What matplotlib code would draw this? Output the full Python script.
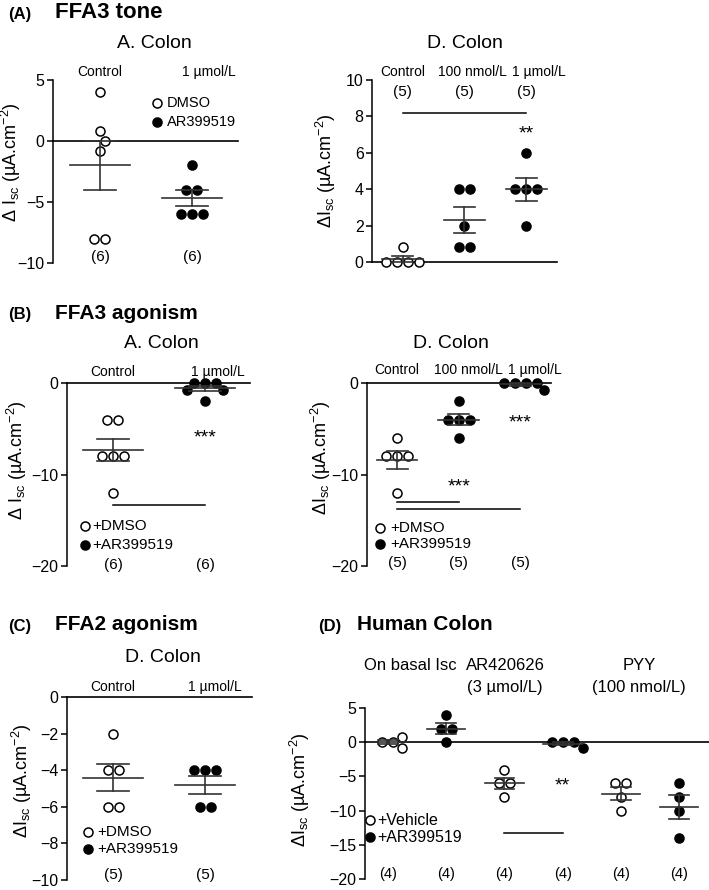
import numpy as np
import matplotlib
matplotlib.use("Agg")
import matplotlib.pyplot as plt

plt.rcParams['font.family'] = ['Liberation Sans', 'DejaVu Sans']
plt.rcParams['mathtext.default'] = 'regular'

W, H = 709, 890

# (A) FFA3 tone, A. Colon
tone_ac_labels = ["Control", "1 µmol/L"]
tone_ac = [[4, 0.8, 0, -0.8, -8, -8],
           [-2, -4, -4, -6, -6, -6]]
tone_ac_fill = [False, True]

# (A) FFA3 tone, D. Colon
tone_dc_labels = ["Control", "100 nmol/L", "1 µmol/L"]
tone_dc = [[0.8, 0, 0, 0, 0],
           [4, 4, 2, 0.8, 0.8],
           [6, 4, 4, 4, 2]]
tone_dc_fill = [False, True, True]

# (B) FFA3 agonism, A. Colon
ago3_ac_labels = ["Control", "1 µmol/L"]
ago3_ac = [[-4, -4, -8, -8, -8, -12],
           [0, 0, 0, -0.8, -0.8, -2]]
ago3_ac_fill = [False, True]

# (B) FFA3 agonism, D. Colon
ago3_dc_labels = ["Control", "100 nmol/L", "1 µmol/L"]
ago3_dc = [[-6, -8, -8, -8, -12],
           [-2, -4, -4, -4, -6],
           [0, 0, 0, 0, -0.8]]
ago3_dc_fill = [False, True, True]

# (C) FFA2 agonism, D. Colon
ago2_dc_labels = ["Control", "1 µmol/L"]
ago2_dc = [[-2, -4, -4, -6, -6],
           [-4, -4, -4, -6, -6]]
ago2_dc_fill = [False, True]

# (D) Human colon
human_labels = [("On basal Isc", ""), ("AR420626", "(3 µmol/L)"), ("PYY", "(100 nmol/L)")]
human = [[0, -0.8, 0, 0.8],
         [4, 2, 2, 0],
         [-4, -6, -6, -8],
         [0, -0.8, 0, 0],
         [-6, -6, -8, -10],
         [-6, -8, -10, -14]]
human_fill = [False, True, False, True, False, True]

YLAB = 'ΔI$_{sc}$ (µA.cm$^{-2}$)'
YLAB_SP = 'Δ I$_{sc}$ (µA.cm$^{-2}$)'

fig = plt.figure(figsize=(W / 100, H / 100), dpi=100)


def px_ax(l, t, r, b):
    return fig.add_axes([l / W, 1 - b / H, (r - l) / W, (b - t) / H])


def ftext(x, y, s, **kw):
    fig.text(x / W, 1 - y / H, s, **kw)


def style(ax, xlim, ylim, yticks):
    ax.set_xlim(xlim)
    ax.set_ylim(ylim)
    ax.set_yticks(yticks)
    ax.set_xticks([])
    for s in ['top', 'right', 'bottom']:
        ax.spines[s].set_visible(False)
    ax.spines['left'].set_linewidth(1.1)
    ax.tick_params(axis='y', direction='out', length=4, width=1.1,
                   labelsize=11.5, pad=2)
    ax.patch.set_alpha(0)
    ax.axhline(0, color='k', lw=1.2, zorder=2, clip_on=False)


def swarm(ax, xc, vals, d=11.0, hit=10.0):
    # simple row layout: tied values side by side, spread out if they bump
    vals = np.asarray(vals, float)
    pts = ax.transData.transform(np.column_stack([np.full(len(vals), xc), vals]))
    x0, ys = pts[0, 0], pts[:, 1]
    uniq = []
    for v in vals:
        if v not in uniq:
            uniq.append(v)
    uniq.sort(key=lambda v: (-np.sum(vals == v), list(vals).index(v)))
    placed = []
    xs = np.zeros(len(vals))
    for v in uniq:
        idx = np.where(vals == v)[0]
        n = len(idx)
        y = ys[idx[0]]
        done = False
        for s in d * np.arange(1, 5, 0.125):
            for c in [0, s / 2, -s / 2]:
                if n == 1:
                    pos = np.array([c])
                else:
                    pos = (np.arange(n) - (n - 1) / 2) * s
                    if c != 0:
                        continue
                ok = all((p - px) ** 2 + (y - py) ** 2 >= hit * hit - 1e-6
                         for p in pos for px, py in placed)
                if ok:
                    done = True
                    break
            if done:
                break
        for i, p in zip(idx, pos):
            xs[i] = p
            placed.append((p, y))
    back = ax.transData.inverted().transform(np.column_stack([x0 + xs, ys]))
    return back[:, 0]


def dots(ax, groups, fills, mw=0.33, cw=0.17):
    for i, (vals, f) in enumerate(zip(groups, fills)):
        xc = i + 1
        xs = swarm(ax, xc, vals)
        ax.plot(xs, vals, 'o', ms=6.5, mew=1.1, mec='k',
                mfc='k' if f else 'white', clip_on=False, zorder=4)
        m = np.mean(vals)
        se = np.std(vals, ddof=1) / np.sqrt(len(vals))
        kw = dict(color='#333333', lw=1.2, zorder=5, clip_on=False)
        ax.plot([xc - mw, xc + mw], [m, m], **kw)
        ax.plot([xc, xc], [m - se, m + se], **kw)
        ax.plot([xc - cw, xc + cw], [m - se, m - se], **kw)
        ax.plot([xc - cw, xc + cw], [m + se, m + se], **kw)


def legend(ax, x, tx, ys, labels, size=11):
    for y, lab, f in zip(ys, labels, [False, True]):
        ax.plot([x], [y], 'o', ms=6.5, mew=1.1, mec='k',
                mfc='k' if f else 'white', clip_on=False)
        ax.text(tx, y, lab, fontsize=size, va='center', ha='left')


def ns(ax, groups, y, size=11):
    for i, g in enumerate(groups):
        ax.text(i + 1, y, '(%d)' % len(g), fontsize=size, ha='center', va='center')


def sig(ax, x1, x2, y):
    ax.plot([x1, x2], [y, y], color='k', lw=1.1, clip_on=False)


def stars(ax, x, y, s):
    ax.text(x, y, s, fontsize=14, ha='center', va='baseline')


def ylab(ax, text, x, y):
    ax.set_ylabel(text, fontsize=13)
    ax.yaxis.set_label_coords(x, y)


# ---------------- (A) ----------------
ftext(8, 14, '(A)', fontsize=12, fontweight='bold', va='center')
ftext(55, 12, 'FFA3 tone', fontsize=16, fontweight='bold', va='center')
ftext(154, 43, 'A. Colon', fontsize=14, ha='center', va='center')
ftext(465, 43, 'D. Colon', fontsize=14, ha='center', va='center')

ax = px_ax(53, 80, 238, 263)
style(ax, (0.49, 2.5), (-10, 5), [5, 0, -5, -10])
dots(ax, tone_ac, tone_ac_fill)
for x, lab in zip([1, 2.18], tone_ac_labels):
    ax.text(x, 5.66, lab, fontsize=10, ha='center', va='center')
ns(ax, tone_ac, -9.5)
legend(ax, 1.62, 1.73, [3.1, 1.56], ['DMSO', 'AR399519'], size=10.5)
ylab(ax, YLAB_SP, -0.162, 0.55)

ax = px_ax(372, 80, 557, 262)
style(ax, (0.5, 3.5), (0, 10), [0, 2, 4, 6, 8, 10])
dots(ax, tone_dc, tone_dc_fill)
for x, lab in zip([1, 2.13, 3.2], tone_dc_labels):
    ax.text(x, 10.44, lab, fontsize=10, ha='center', va='center')
ns(ax, tone_dc, 9.34)
sig(ax, 1, 3, 8.19)
stars(ax, 3, 6.79, '**')
ylab(ax, YLAB, -0.184, 0.5)

# ---------------- (B) ----------------
ftext(8, 315, '(B)', fontsize=12, fontweight='bold', va='center')
ftext(55, 314, 'FFA3 agonism', fontsize=15, fontweight='bold', va='center')
ftext(161, 344, 'A. Colon', fontsize=14, ha='center', va='center')
ftext(451, 343, 'D. Colon', fontsize=14, ha='center', va='center')

ax = px_ax(67, 383, 250, 566)
style(ax, (0.5, 2.49), (-20, 0), [0, -10, -20])
dots(ax, ago3_ac, ago3_ac_fill)
for x, lab in zip([1, 2.14], ago3_ac_labels):
    ax.text(x, 1.2, lab, fontsize=10, ha='center', va='center')
ns(ax, ago3_ac, -19.9)
sig(ax, 1, 2, -13.3)
stars(ax, 2, -6.5, '***')
legend(ax, 0.7, 0.78, [-15.6, -17.7], ['+DMSO', '+AR399519'])
ylab(ax, YLAB_SP, -0.21, 0.58)

ax = px_ax(367, 383, 551, 566)
style(ax, (0.51, 3.5), (-20, 0), [0, -10, -20])
dots(ax, ago3_dc, ago3_dc_fill)
for x, lab in zip([1, 2.16, 3.24], ago3_dc_labels):
    ax.text(x, 1.4, lab, fontsize=10, ha='center', va='center')
ns(ax, ago3_dc, -19.7)
sig(ax, 1, 2, -13.0)
sig(ax, 1, 3, -13.8)
stars(ax, 3, -4.86, '***')
stars(ax, 2, -11.86, '***')
legend(ax, 0.72, 0.885, [-15.8, -17.6], ['+DMSO', '+AR399519'])
ylab(ax, YLAB, -0.185, 0.59)

# ---------------- (C) ----------------
ftext(8, 626, '(C)', fontsize=12, fontweight='bold', va='center')
ftext(55, 624, 'FFA2 agonism', fontsize=15, fontweight='bold', va='center')
ftext(163, 658, 'D. Colon', fontsize=14, ha='center', va='center')

ax = px_ax(67, 697, 252, 880)
style(ax, (0.5, 2.51), (-10, 0), [0, -2, -4, -6, -8, -10])
dots(ax, ago2_dc, ago2_dc_fill)
for x, lab in zip([1, 2.11], ago2_dc_labels):
    ax.text(x, 0.55, lab, fontsize=10, ha='center', va='center')
ns(ax, ago2_dc, -9.7)
legend(ax, 0.73, 0.83, [-7.4, -8.3], ['+DMSO', '+AR399519'])
ylab(ax, YLAB, -0.18, 0.54)

# ---------------- (D) ----------------
ftext(318, 626, '(D)', fontsize=12, fontweight='bold', va='center')
ftext(357, 624, 'Human Colon', fontsize=15, fontweight='bold', va='center')

ax = px_ax(365, 708, 709, 879)
style(ax, (0.605, 6.515), (-20, 5), [5, 0, -5, -10, -15, -20])
dots(ax, human, human_fill)
for x, (l1, l2) in zip([1.38, 3.01, 5.31], human_labels):
    ax.text(x, 11.2, l1, fontsize=12, ha='center', va='center')
    if l2:
        ax.text(x, 8.0, l2, fontsize=12, ha='center', va='center')
ns(ax, human, -19.3, size=10.5)
sig(ax, 3, 4, -13.3)
stars(ax, 4, -7.03, '**')
legend(ax, 0.69, 0.81, [-11.4, -13.9], ['+Vehicle', '+AR399519'], size=11.5)
ylab(ax, YLAB, -0.154, 0.52)

fig.savefig('out.png', dpi=100)
